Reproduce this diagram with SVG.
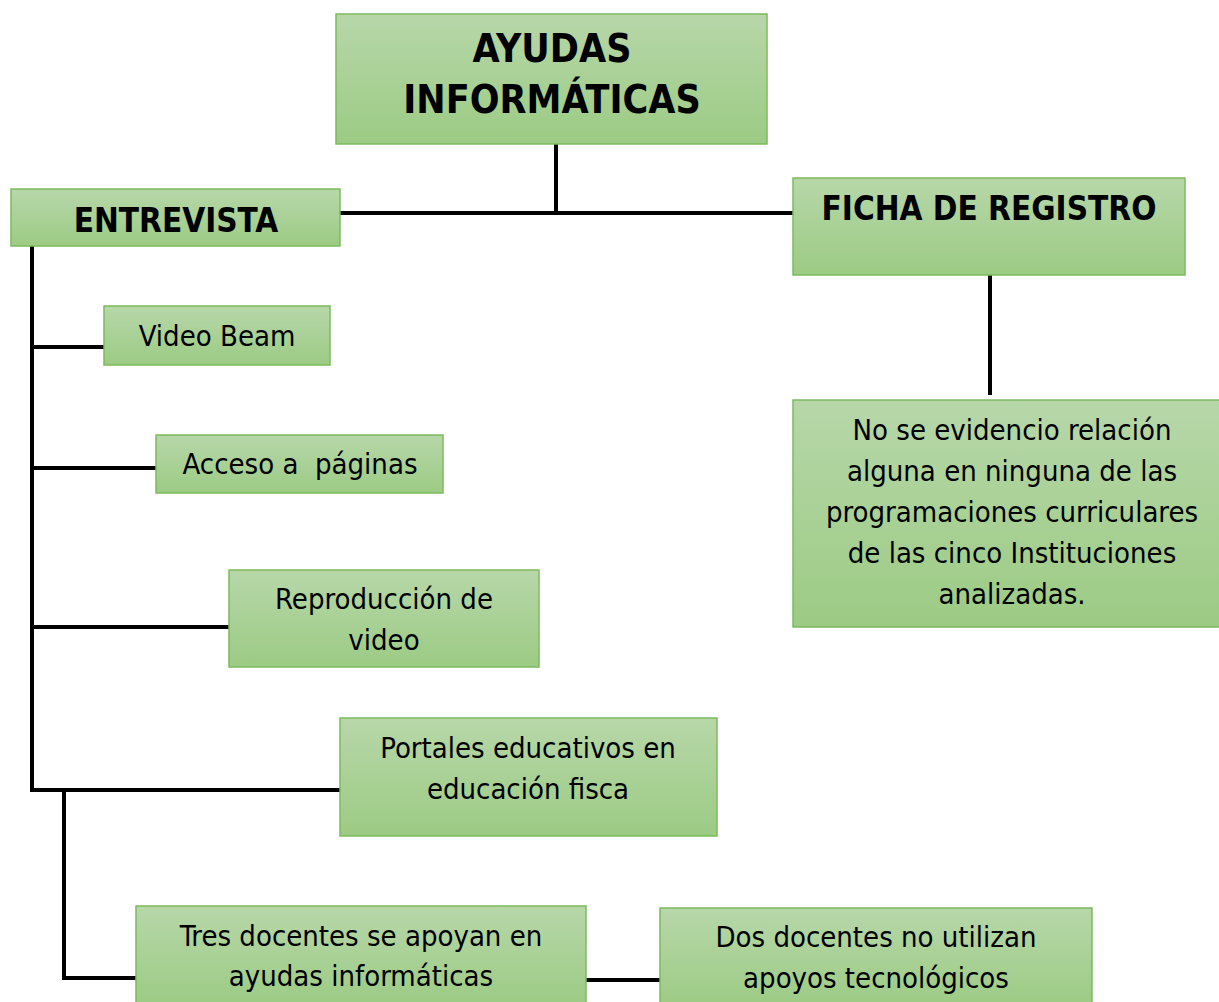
<svg xmlns="http://www.w3.org/2000/svg" width="1219" height="1002" viewBox="0 0 1219 1002">
<defs>
<linearGradient id="g" x1="0" y1="0" x2="0" y2="1">
<stop offset="0" stop-color="#b7d7a9"/>
<stop offset="1" stop-color="#9ccb84"/>
</linearGradient>
</defs>
<style>
.box{fill:url(#g);stroke:#7cbb5d;stroke-width:1.5}
.t{font-family:"DejaVu Sans Condensed","DejaVu Sans",Verdana,sans-serif;font-stretch:condensed;font-size:29px;fill:#000;text-anchor:middle}
.b{font-weight:bold;font-size:33px}
.h{font-size:39px}
.c{stroke:#000;stroke-width:4;fill:none}
</style>
<rect width="1219" height="1002" fill="#fff"/>
<g id="connectors">
<path class="c" d="M556 144V213M340 213H793"/>
<path class="c" d="M990 275V395"/>
<path class="c" d="M32 246V790H340M32 347H104M32 468H156M32 627H229"/>
<path class="c" d="M64 790V978H136M586 980H660"/>
</g>
<g id="n-ayudas">
<rect class="box" x="336" y="14" width="431" height="130"/>
<text class="t b h" x="552" y="62">AYUDAS</text>
<text class="t b h" x="552" y="113">INFORMÁTICAS</text>
</g>
<g id="n-entrevista">
<rect class="box" x="11" y="189" width="329" height="57"/>
<text class="t b" x="176" y="232">ENTREVISTA</text>
</g>
<g id="n-ficha">
<rect class="box" x="793" y="178" width="392" height="97"/>
<text class="t b" x="989" y="220">FICHA DE REGISTRO</text>
</g>
<g id="n-noevidencia">
<rect class="box" x="793" y="400" width="430" height="227"/>
<text class="t" x="1012" y="440">No se evidencio relación</text>
<text class="t" x="1012" y="481">alguna en ninguna de las</text>
<text class="t" x="1012" y="522">programaciones curriculares</text>
<text class="t" x="1012" y="563">de las cinco Instituciones</text>
<text class="t" x="1012" y="604">analizadas.</text>
</g>
<g id="n-videobeam">
<rect class="box" x="104" y="306" width="226" height="59"/>
<text class="t" x="217" y="346">Video Beam</text>
</g>
<g id="n-acceso">
<rect class="box" x="156" y="435" width="287" height="58"/>
<text class="t" x="300" y="474" style="white-space:pre">Acceso a  páginas</text>
</g>
<g id="n-reproduccion">
<rect class="box" x="229" y="570" width="310" height="97"/>
<text class="t" x="384" y="609">Reproducción de</text>
<text class="t" x="384" y="650">video</text>
</g>
<g id="n-portales">
<rect class="box" x="340" y="718" width="377" height="118"/>
<text class="t" x="528" y="758">Portales educativos en</text>
<text class="t" x="528" y="799">educación fisca</text>
</g>
<g id="n-tres">
<rect class="box" x="136" y="906" width="450" height="100"/>
<text class="t" x="361" y="946">Tres docentes se apoyan en</text>
<text class="t" x="361" y="986">ayudas informáticas</text>
</g>
<g id="n-dos">
<rect class="box" x="660" y="908" width="432" height="100"/>
<text class="t" x="876" y="947">Dos docentes no utilizan</text>
<text class="t" x="876" y="988">apoyos tecnológicos</text>
</g>
</svg>
